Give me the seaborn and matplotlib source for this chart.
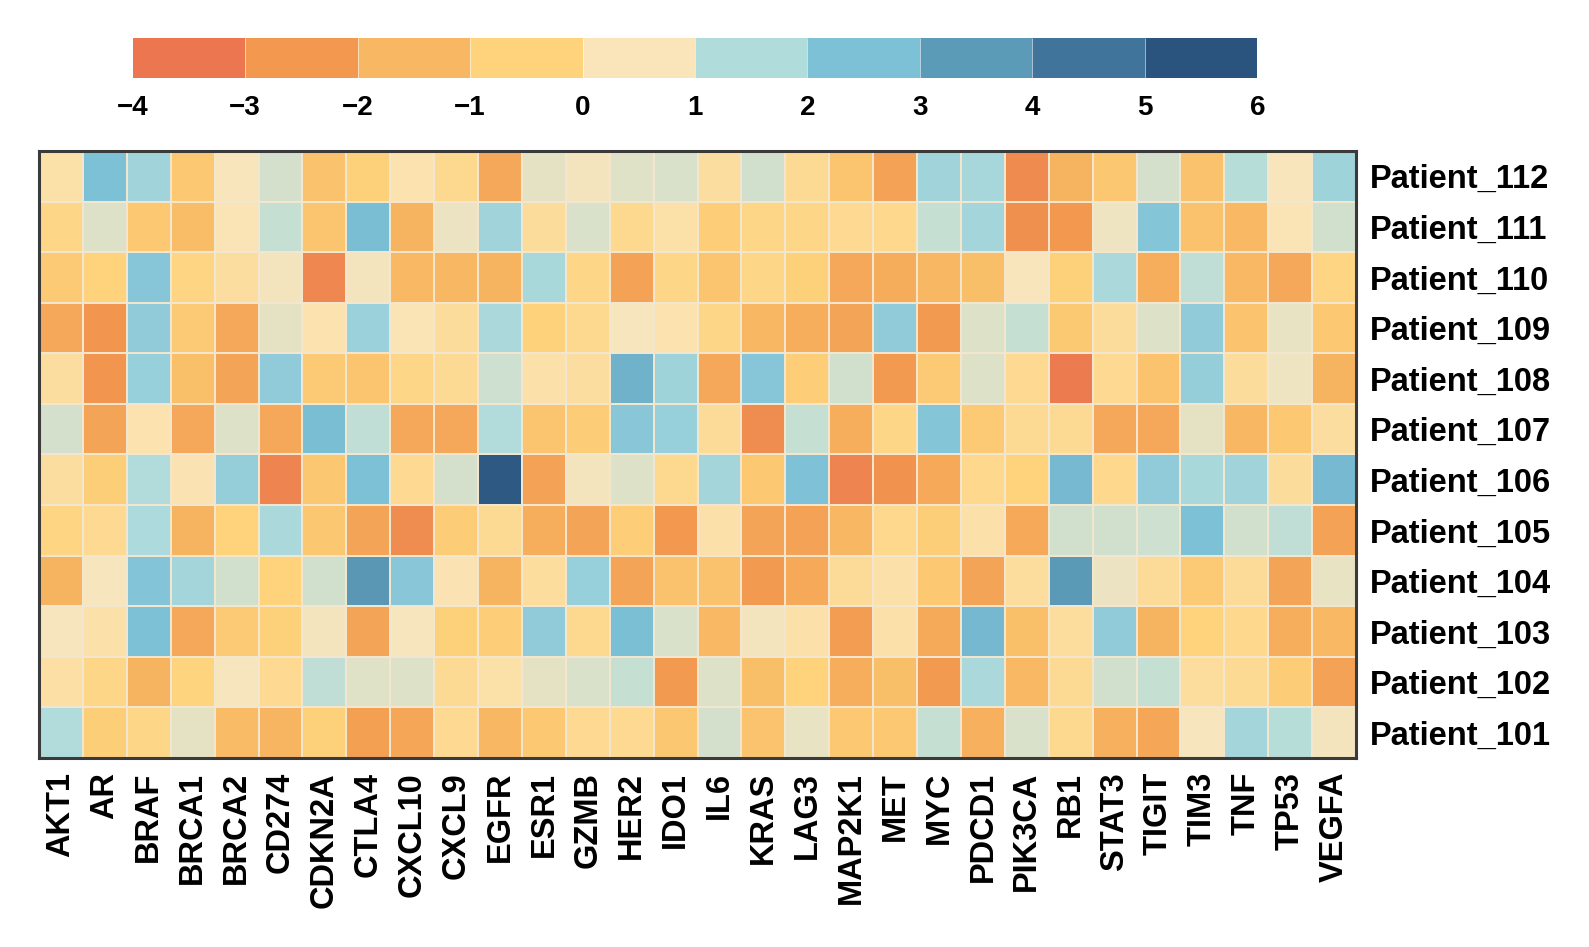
import numpy as np
import pandas as pd
import matplotlib
matplotlib.use("Agg")
import matplotlib.pyplot as plt
import matplotlib.cm as cm
from matplotlib.colors import LinearSegmentedColormap, ListedColormap, BoundaryNorm
import seaborn as sns

# genes (columns) and patients (rows, top to bottom)
genes = ["AKT1", "AR", "BRAF", "BRCA1", "BRCA2", "CD274", "CDKN2A", "CTLA4", "CXCL10", "CXCL9",
         "EGFR", "ESR1", "GZMB", "HER2", "IDO1", "IL6", "KRAS", "LAG3", "MAP2K1", "MET",
         "MYC", "PDCD1", "PIK3CA", "RB1", "STAT3", "TIGIT", "TIM3", "TNF", "TP53", "VEGFA"]
patients = ["Patient_112", "Patient_111", "Patient_110", "Patient_109", "Patient_108", "Patient_107",
            "Patient_106", "Patient_105", "Patient_104", "Patient_103", "Patient_102", "Patient_101"]

# expression values, one list per patient (same order as genes)
p112 = [0.2, 2.5, 1.8, -0.9, 0.5, 1.0, -1.1, -0.6, 0.3, -0.2, -2.0, 0.8, 0.6, 0.85, 0.95,
        0.1, 1.05, -0.1, -1.0, -2.2, 1.8, 1.7, -2.9, -1.6, -0.95, 1.0, -1.1, 1.4, 0.5, 1.85]
p111 = [-0.3, 0.9, -0.9, -1.3, 0.4, 1.2, -1.0, 2.6, -1.6, 0.7, 1.8, 0.0, 0.95, -0.2, 0.2,
        -0.7, -0.3, -0.3, -0.15, -0.25, 1.2, 1.75, -2.75, -2.5, 0.65, 2.35, -1.1, -1.4, 0.4, 1.05]
p110 = [-0.8, -0.5, 2.3, -0.4, 0.1, 0.6, -3.0, 0.6, -1.4, -1.5, -1.6, 1.65, -0.3, -2.2, -0.3,
        -1.0, -0.3, -0.6, -2.0, -1.85, -1.5, -1.25, 0.5, -0.6, 1.6, -1.8, 1.3, -1.4, -2.0, -0.4]
p109 = [-2.0, -2.6, 2.1, -0.8, -2.0, 0.8, 0.3, 1.9, 0.4, 0.0, 1.6, -0.55, -0.2, 0.55, 0.3,
        -0.3, -1.5, -1.8, -2.1, 2.1, -2.4, 0.9, 1.2, -0.85, 0.0, 0.9, 2.1, -1.05, 0.75, -0.9]
p108 = [0.1, -2.6, 2.0, -1.2, -2.1, 2.1, -0.8, -1.0, -0.3, -0.1, 1.1, 0.25, 0.1, 2.9, 1.85,
        -2.0, 2.3, -0.7, 1.05, -2.4, -0.8, 0.9, -0.15, -3.3, -0.15, -1.05, 2.05, 0.0, 0.65, -1.6]
p107 = [1.0, -2.1, 0.3, -2.0, 0.9, -2.0, 2.6, 1.3, -2.0, -2.0, 1.5, -1.0, -0.75, 2.25, 2.0,
        -0.05, -2.85, 1.2, -1.8, -0.3, 2.35, -0.8, -0.1, -0.1, -2.0, -2.0, 0.8, -1.5, -0.9, 0.1]
p106 = [0.1, -0.65, 1.5, 0.35, 2.05, -3.1, -0.95, 2.5, -0.15, 1.0, 5.3, -2.2, 0.6, 0.9, -0.2,
        1.75, -0.9, 2.45, -3.1, -2.65, -1.95, -0.25, -0.5, 2.7, -0.25, 2.1, 1.65, 1.8, 0.0, 2.7]
p105 = [-0.4, -0.15, 1.55, -1.6, -0.5, 1.6, -0.95, -2.1, -2.85, -0.75, -0.1, -1.8, -2.1, -0.7, -2.5,
        0.25, -2.1, -2.15, -1.5, -0.25, -0.65, 0.25, -1.95, 1.05, 1.05, 1.1, 2.5, 1.05, 1.3, -2.15]
p104 = [-1.6, 0.55, 2.4, 1.75, 1.05, -0.5, 1.05, 3.6, 2.25, 0.35, -1.6, 0.05, 2.0, -2.1, -1.1,
        -1.1, -2.45, -1.95, -0.05, 0.25, -0.9, -2.1, 0.05, 3.5, 0.7, -0.05, -0.8, -0.05, -2.1, 0.75]
p103 = [0.55, 0.25, 2.5, -2.0, -0.8, -0.6, 0.6, -2.1, 0.55, -0.6, -0.7, 2.1, -0.2, 2.55, 0.95,
        -1.4, 0.6, 0.25, -2.35, 0.25, -1.9, 2.75, -1.2, 0.05, 2.1, -1.6, -0.5, -0.25, -1.8, -1.4]
p102 = [0.15, -0.3, -1.6, -0.45, 0.55, -0.15, 1.3, 0.85, 0.9, -0.1, 0.2, 0.8, 0.95, 1.2, -2.4,
        0.9, -1.25, -0.5, -1.8, -1.25, -2.4, 1.6, -1.4, -0.1, 1.05, 1.2, 0.05, -0.1, -0.75, -2.15]
p101 = [1.5, -0.65, -0.3, 0.8, -1.35, -1.55, -0.6, -2.25, -2.05, -0.15, -1.45, -0.9, -0.15, -0.15, -0.95,
        1.0, -1.05, 0.75, -0.9, -0.9, 1.2, -1.7, 0.95, -0.2, -1.7, -2.05, 0.55, 1.75, 1.4, 0.6]

# legend breaks and colours
legend_breaks = [-4, -3, -2, -1, 0, 1, 2, 3, 4, 5, 6]
legend_colors = ["#EB7650", "#F2994F", "#F8B762", "#FED37C", "#FAE5BB",
                 "#B1DCDC", "#7DC1D7", "#5C9BB7", "#41749A", "#2A547E"]

sns.set_theme(style="white")
plt.rcParams['font.family'] = ['Liberation Sans', 'DejaVu Sans']
plt.rcParams['font.weight'] = 'bold'
plt.rcParams['text.color'] = 'black'
plt.rcParams['xtick.color'] = 'black'
plt.rcParams['ytick.color'] = 'black'

df = pd.DataFrame([p112, p111, p110, p109, p108, p107, p106, p105, p104, p103, p102, p101],
                  index=patients, columns=genes)

vmin, vmax = legend_breaks[0], legend_breaks[-1]
centers = [(a + b) / 2 for a, b in zip(legend_breaks[:-1], legend_breaks[1:])]
pos = [0.0] + [(c - vmin) / (vmax - vmin) for c in centers] + [1.0]
cols = [legend_colors[0]] + legend_colors + [legend_colors[-1]]
cmap = LinearSegmentedColormap.from_list("expr", list(zip(pos, cols)))

fig = plt.figure(figsize=(15.89, 9.47), dpi=100)
ax = fig.add_axes([0.02454, 0.19958, 0.8289, 0.64097])
sns.heatmap(df, cmap=cmap, vmin=vmin, vmax=vmax, cbar=False,
            linewidths=0.25, linecolor="#F3E6CF", ax=ax)

ax.yaxis.tick_right()
ax.set_xlabel("")
ax.set_ylabel("")
plt.setp(ax.get_yticklabels(), rotation=0, fontsize=23.5, fontweight='bold', color='black')
plt.setp(ax.get_xticklabels(), rotation=90, fontsize=23.5, fontweight='bold', color='black')
ax.tick_params(axis='both', length=0)
ax.tick_params(axis='y', pad=10)
ax.tick_params(axis='x', pad=10)
for s in ax.spines.values():
    s.set_visible(True)
    s.set_linewidth(2.2)
    s.set_color("#3a3a3a")

# discrete legend on top
cax = fig.add_axes([0.0835, 0.91732, 0.70774, 0.04224])
sm = cm.ScalarMappable(norm=BoundaryNorm(legend_breaks, len(legend_colors)),
                       cmap=ListedColormap(legend_colors))
cb = fig.colorbar(sm, cax=cax, orientation='horizontal', ticks=legend_breaks, drawedges=True)
cb.outline.set_visible(False)
cb.dividers.set_color("white")
cb.dividers.set_linewidth(0.4)
cax.tick_params(length=0, labelsize=20, pad=12, colors='black')
for t in cax.get_xticklabels():
    t.set_fontweight('bold')

fig.savefig("out.png", dpi=100)
